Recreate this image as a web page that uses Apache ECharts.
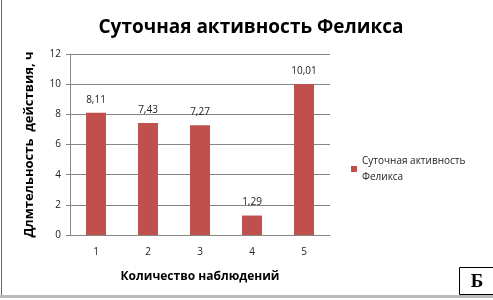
<!DOCTYPE html>
<html><head><meta charset="utf-8">
<script src="https://cdn.jsdelivr.net/npm/echarts@6/dist/echarts.min.js"></script>
<style>html,body{margin:0;padding:0;background:#fff}#c{width:493px;height:300px}</style>
</head><body><div id="c"></div>
<script>
var categories = ['1', '2', '3', '4', '5'];
var values = [8.11, 7.43, 7.27, 1.29, 10.01];
var seriesName = 'Суточная активность Феликса';
var yTicks = [0, 2, 4, 6, 8, 10, 12];

var chart = echarts.init(document.getElementById('c'), null, {renderer: 'canvas'});
var font = '"Open Sans", "DejaVu Sans", sans-serif';
chart.setOption({
  animation: false,
  backgroundColor: '#ffffff',
  title: {
    text: 'Суточная активность Феликса',
    left: 246, top: 13, textAlign: 'center',
    textStyle: {fontFamily: font, fontSize: 19, fontWeight: 'bold', color: '#000'}
  },
  grid: {left: 70, right: 163, top: 54, bottom: 65},
  legend: {
    left: 351, top: 145, padding: 0, itemWidth: 6, itemHeight: 6, icon: 'rect',
    formatter: function () { return 'Суточная активность\nФеликса'; },
    textStyle: {fontFamily: font, fontSize: 10, color: '#222', lineHeight: 16, padding: [16, 0, 0, 0]},
    itemGap: 4
  },
  xAxis: {
    type: 'category', data: categories,
    name: 'Количество наблюдений', nameLocation: 'middle', nameGap: 36,
    nameTextStyle: {fontFamily: font, fontSize: 12, fontWeight: 'bold', color: '#000'},
    axisLine: {lineStyle: {color: '#868686'}},
    axisTick: {show: false},
    axisLabel: {fontFamily: font, fontSize: 10, color: '#222', margin: 12}
  },
  yAxis: {
    type: 'value', min: yTicks[0], max: yTicks[yTicks.length - 1], interval: 2,
    name: 'Длмтельность  действия, ч', nameLocation: 'middle', nameGap: 34, nameRotate: 90,
    nameTextStyle: {fontFamily: font, fontSize: 13, fontWeight: 'bold', color: '#000'},
    axisLine: {show: true, lineStyle: {color: '#868686'}},
    axisTick: {show: true, length: 4, inside: false, lineStyle: {color: '#868686'}},
    axisLabel: {fontFamily: font, fontSize: 10, color: '#222', margin: 9},
    splitLine: {lineStyle: {color: '#868686'}}
  },
  series: [{
    name: seriesName, type: 'bar', data: values, barWidth: 20,
    itemStyle: {color: '#C0504D'},
    label: {show: true, position: 'top', distance: 8, fontFamily: font, fontSize: 10, color: '#222',
      formatter: function (p) { return p.value.toFixed(2).replace('.', ','); }}
  }],
  graphic: [
    {type: 'line', shape: {x1: 1.5, y1: 0, x2: 1.5, y2: 296}, style: {stroke: '#666', lineWidth: 1}},
    {type: 'line', shape: {x1: 0, y1: 296.5, x2: 493, y2: 296.5}, style: {stroke: '#bbb', lineWidth: 3}},
    {type: 'rect', shape: {x: 459.5, y: 267.5, width: 40, height: 27}, style: {fill: '#fff', stroke: '#000', lineWidth: 1}},
    {type: 'text', x: 477, y: 282, style: {text: 'Б', font: 'bold 19px "Liberation Serif", "DejaVu Serif", serif', fill: '#000', textAlign: 'center', textVerticalAlign: 'middle'}}
  ]
});
</script></body></html>
